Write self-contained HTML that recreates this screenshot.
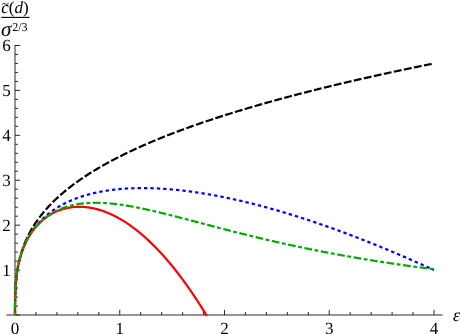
<!DOCTYPE html>
<html><head><meta charset="utf-8"><title>plot</title>
<style>
html,body{margin:0;padding:0;background:#fff;}
body{width:461px;height:334px;overflow:hidden;}
svg{display:block;will-change:transform;}
text{font-family:"Liberation Serif",serif;font-size:17px;fill:#000;text-rendering:geometricPrecision;}
.ax line{stroke:#2a2a2a;stroke-width:1;}
.c{fill:none;stroke-width:2.2;stroke-linejoin:round;}
.i{font-style:italic;}
</style></head><body>
<svg width="461" height="334" viewBox="0 0 461 334">
<rect width="461" height="334" fill="#fff"/>
<g class="ax">
<line x1="6.3" y1="315.00" x2="442.60" y2="315.00"/>
<line x1="15.00" y1="315.00" x2="15.00" y2="44.98"/>
<line x1="15.00" y1="315.00" x2="15.00" y2="309.90"/>
<line x1="35.95" y1="315.00" x2="35.95" y2="312.00"/>
<line x1="56.90" y1="315.00" x2="56.90" y2="312.00"/>
<line x1="77.85" y1="315.00" x2="77.85" y2="312.00"/>
<line x1="98.80" y1="315.00" x2="98.80" y2="312.00"/>
<line x1="119.75" y1="315.00" x2="119.75" y2="309.90"/>
<line x1="140.70" y1="315.00" x2="140.70" y2="312.00"/>
<line x1="161.65" y1="315.00" x2="161.65" y2="312.00"/>
<line x1="182.60" y1="315.00" x2="182.60" y2="312.00"/>
<line x1="203.55" y1="315.00" x2="203.55" y2="312.00"/>
<line x1="224.50" y1="315.00" x2="224.50" y2="309.90"/>
<line x1="245.45" y1="315.00" x2="245.45" y2="312.00"/>
<line x1="266.40" y1="315.00" x2="266.40" y2="312.00"/>
<line x1="287.35" y1="315.00" x2="287.35" y2="312.00"/>
<line x1="308.30" y1="315.00" x2="308.30" y2="312.00"/>
<line x1="329.25" y1="315.00" x2="329.25" y2="309.90"/>
<line x1="350.20" y1="315.00" x2="350.20" y2="312.00"/>
<line x1="371.15" y1="315.00" x2="371.15" y2="312.00"/>
<line x1="392.10" y1="315.00" x2="392.10" y2="312.00"/>
<line x1="413.05" y1="315.00" x2="413.05" y2="312.00"/>
<line x1="434.00" y1="315.00" x2="434.00" y2="309.90"/>
<line x1="15.00" y1="315.00" x2="20.10" y2="315.00"/>
<line x1="15.00" y1="306.02" x2="18.00" y2="306.02"/>
<line x1="15.00" y1="297.03" x2="18.00" y2="297.03"/>
<line x1="15.00" y1="288.05" x2="18.00" y2="288.05"/>
<line x1="15.00" y1="279.06" x2="18.00" y2="279.06"/>
<line x1="15.00" y1="270.08" x2="20.10" y2="270.08"/>
<line x1="15.00" y1="261.10" x2="18.00" y2="261.10"/>
<line x1="15.00" y1="252.11" x2="18.00" y2="252.11"/>
<line x1="15.00" y1="243.13" x2="18.00" y2="243.13"/>
<line x1="15.00" y1="234.14" x2="18.00" y2="234.14"/>
<line x1="15.00" y1="225.16" x2="20.10" y2="225.16"/>
<line x1="15.00" y1="216.18" x2="18.00" y2="216.18"/>
<line x1="15.00" y1="207.19" x2="18.00" y2="207.19"/>
<line x1="15.00" y1="198.21" x2="18.00" y2="198.21"/>
<line x1="15.00" y1="189.22" x2="18.00" y2="189.22"/>
<line x1="15.00" y1="180.24" x2="20.10" y2="180.24"/>
<line x1="15.00" y1="171.26" x2="18.00" y2="171.26"/>
<line x1="15.00" y1="162.27" x2="18.00" y2="162.27"/>
<line x1="15.00" y1="153.29" x2="18.00" y2="153.29"/>
<line x1="15.00" y1="144.30" x2="18.00" y2="144.30"/>
<line x1="15.00" y1="135.32" x2="20.10" y2="135.32"/>
<line x1="15.00" y1="126.34" x2="18.00" y2="126.34"/>
<line x1="15.00" y1="117.35" x2="18.00" y2="117.35"/>
<line x1="15.00" y1="108.37" x2="18.00" y2="108.37"/>
<line x1="15.00" y1="99.38" x2="18.00" y2="99.38"/>
<line x1="15.00" y1="90.40" x2="20.10" y2="90.40"/>
<line x1="15.00" y1="81.42" x2="18.00" y2="81.42"/>
<line x1="15.00" y1="72.43" x2="18.00" y2="72.43"/>
<line x1="15.00" y1="63.45" x2="18.00" y2="63.45"/>
<line x1="15.00" y1="54.46" x2="18.00" y2="54.46"/>
<line x1="15.00" y1="45.48" x2="20.10" y2="45.48"/>
</g>
<g>
<text x="15.00" y="334.3" text-anchor="middle">0</text>
<text x="119.75" y="334.3" text-anchor="middle">1</text>
<text x="224.50" y="334.3" text-anchor="middle">2</text>
<text x="329.25" y="334.3" text-anchor="middle">3</text>
<text x="434.00" y="334.3" text-anchor="middle">4</text>
<text x="10.75" y="275.88" text-anchor="end">1</text>
<text x="10.75" y="230.96" text-anchor="end">2</text>
<text x="10.75" y="186.04" text-anchor="end">3</text>
<text x="10.75" y="141.12" text-anchor="end">4</text>
<text x="10.75" y="96.20" text-anchor="end">5</text>
<text x="10.75" y="51.28" text-anchor="end">6</text>
</g>
<text x="453.0" y="320.7" class="i" style="font-size:18px">&#949;</text>
<g id="ylabel">
<text x="1.2" y="13.2" style="font-size:17px"><tspan class="i">c</tspan>(<tspan class="i">d</tspan>)</text>
<path d="M2.2 4.6 C3.4 2.9 4.6 3.4 5.6 4 C6.6 4.6 7.6 4.6 8.4 3.2" fill="none" stroke="#000" stroke-width="0.9"/>
<line x1="1.2" y1="17.4" x2="29.6" y2="17.4" stroke="#000" stroke-width="1.1"/>
<text x="0.9" y="35.7" class="i" style="font-size:21px">&#963;</text>
<text x="12.2" y="30.8" style="font-size:12px">2/3</text>
</g>
<path class="c" d="M15.00 315.00 L15.00 314.73 L15.00 314.47 L15.00 314.20 L15.00 313.94 L15.00 313.67 L15.00 313.40 L15.00 313.14 L15.00 312.87 L15.00 312.61 L15.00 312.34 L15.00 312.08 L15.00 311.81 L15.00 311.54 L15.00 311.28 L15.00 311.01 L15.00 310.75 L15.00 310.48 L15.00 310.21 L15.00 309.95 L15.00 309.68 L15.00 309.42 L15.01 309.15 L15.01 308.88 L15.01 308.62 L15.01 308.35 L15.01 308.09 L15.01 307.82 L15.01 307.56 L15.01 307.29 L15.01 307.02 L15.01 306.76 L15.02 306.49 L15.02 306.23 L15.02 305.96 L15.02 305.69 L15.02 305.43 L15.03 305.16 L15.03 304.90 L15.03 304.63 L15.03 304.36 L15.03 304.10 L15.04 303.83 L15.04 303.57 L15.04 303.30 L15.05 303.03 L15.05 302.77 L15.05 302.50 L15.05 302.24 L15.06 301.97 L15.06 301.71 L15.07 301.44 L15.07 301.17 L15.07 300.91 L15.08 300.64 L15.08 300.38 L15.09 300.11 L15.09 299.84 L15.10 299.58 L15.10 299.31 L15.11 299.05 L15.11 298.78 L15.12 298.51 L15.12 298.25 L15.13 297.98 L15.14 297.72 L15.14 297.45 L15.15 297.19 L15.16 296.92 L15.16 296.65 L15.17 296.39 L15.18 296.12 L15.18 295.86 L15.19 295.59 L15.20 295.32 L15.21 295.06 L15.22 294.79 L15.23 294.53 L15.23 294.26 L15.24 293.99 L15.25 293.73 L15.26 293.46 L15.27 293.20 L15.28 292.93 L15.29 292.67 L15.30 292.40 L15.31 292.13 L15.33 291.87 L15.34 291.60 L15.35 291.34 L15.36 291.07 L15.37 290.80 L15.39 290.54 L15.40 290.27 L15.41 290.01 L15.42 289.74 L15.44 289.47 L15.45 289.21 L15.47 288.94 L15.48 288.68 L15.49 288.41 L15.51 288.15 L15.52 287.88 L15.54 287.61 L15.56 287.35 L15.57 287.08 L15.59 286.82 L15.61 286.55 L15.62 286.28 L15.64 286.02 L15.66 285.75 L15.68 285.49 L15.70 285.22 L15.71 284.95 L15.73 284.69 L15.75 284.42 L15.77 284.16 L15.79 283.89 L15.81 283.62 L15.83 283.36 L15.85 283.09 L15.88 282.83 L15.90 282.56 L15.92 282.30 L15.94 282.03 L15.97 281.76 L15.99 281.50 L16.01 281.23 L16.04 280.97 L16.06 280.70 L16.09 280.43 L16.11 280.17 L16.14 279.90 L16.16 279.64 L16.19 279.37 L16.22 279.10 L16.24 278.84 L16.27 278.57 L16.30 278.31 L16.33 278.04 L16.36 277.78 L16.39 277.51 L16.42 277.24 L16.45 276.98 L16.48 276.71 L16.51 276.45 L16.54 276.18 L16.57 275.91 L16.60 275.65 L16.64 275.38 L16.67 275.12 L16.70 274.85 L16.74 274.58 L16.77 274.32 L16.81 274.05 L16.84 273.79 L16.88 273.52 L16.91 273.26 L16.95 272.99 L16.99 272.72 L17.03 272.46 L17.06 272.19 L17.10 271.93 L17.14 271.66 L17.18 271.39 L17.22 271.13 L17.26 270.86 L17.30 270.60 L17.35 270.33 L17.39 270.06 L17.43 269.80 L17.47 269.53 L17.52 269.27 L17.56 269.00 L17.61 268.74 L17.65 268.47 L17.70 268.20 L17.74 267.94 L17.79 267.67 L17.84 267.41 L17.89 267.14 L17.93 266.87 L17.98 266.61 L18.03 266.34 L18.08 266.08 L18.13 265.81 L18.18 265.54 L18.24 265.28 L18.29 265.01 L18.34 264.75 L18.39 264.48 L18.45 264.21 L18.50 263.95 L18.56 263.68 L18.61 263.42 L18.67 263.15 L18.72 262.89 L18.78 262.62 L18.84 262.35 L18.90 262.09 L18.96 261.82 L19.02 261.56 L19.08 261.29 L19.14 261.02 L19.20 260.76 L19.26 260.49 L19.32 260.23 L19.39 259.96 L19.45 259.69 L19.52 259.43 L19.58 259.16 L19.65 258.90 L19.71 258.63 L19.78 258.37 L19.85 258.10 L19.92 257.83 L19.99 257.57 L20.06 257.30 L20.13 257.04 L20.20 256.77 L20.27 256.50 L20.34 256.24 L20.41 255.97 L20.49 255.71 L20.56 255.44 L20.64 255.17 L20.71 254.91 L20.79 254.64 L20.86 254.38 L20.94 254.11 L21.02 253.85 L21.10 253.58 L21.18 253.31 L21.26 253.05 L21.34 252.78 L21.42 252.52 L21.50 252.25 L21.59 251.98 L21.67 251.72 L21.75 251.45 L21.84 251.19 L21.92 250.92 L22.01 250.65 L22.10 250.39 L22.19 250.12 L22.28 249.86 L22.36 249.59 L22.45 249.33 L22.55 249.06 L22.64 248.79 L22.73 248.53 L22.82 248.26 L22.92 248.00 L23.01 247.73 L23.11 247.46 L23.20 247.20 L23.30 246.93 L23.40 246.67 L23.50 246.40 L23.60 246.13 L23.70 245.87 L23.80 245.60 L23.90 245.34 L24.00 245.07 L24.10 244.80 L24.21 244.54 L24.31 244.27 L24.42 244.01 L24.52 243.74 L24.63 243.48 L24.74 243.21 L24.85 242.94 L24.96 242.68 L25.07 242.41 L25.18 242.15 L25.29 241.88 L25.40 241.61 L25.51 241.35 L25.63 241.08 L25.74 240.82 L25.86 240.55 L25.98 240.28 L26.09 240.02 L26.21 239.75 L26.33 239.49 L26.45 239.22 L26.57 238.96 L26.70 238.69 L26.82 238.42 L26.94 238.16 L27.07 237.89 L27.19 237.63 L27.32 237.36 L27.44 237.09 L27.57 236.83 L27.70 236.56 L27.83 236.30 L27.96 236.03 L28.09 235.76 L28.22 235.50 L28.36 235.23 L28.49 234.97 L28.63 234.70 L28.76 234.44 L28.90 234.17 L29.04 233.90 L29.17 233.64 L29.31 233.37 L29.45 233.11 L29.60 232.84 L29.74 232.57 L29.88 232.31 L30.03 232.04 L30.17 231.78 L30.32 231.51 L30.46 231.24 L30.61 230.98 L30.76 230.71 L30.91 230.45 L31.06 230.18 L31.21 229.92 L31.36 229.65 L31.52 229.38 L31.67 229.12 L31.83 228.85 L31.98 228.59 L32.14 228.32 L32.30 228.05 L32.46 227.79 L32.62 227.52 L32.78 227.26 L32.94 226.99 L33.10 226.72 L33.27 226.46 L33.43 226.19 L33.60 225.93 L33.77 225.66 L33.93 225.39 L34.10 225.13 L34.27 224.86 L34.44 224.60 L34.62 224.33 L34.79 224.07 L34.96 223.80 L35.14 223.53 L35.31 223.27 L35.49 223.00 L35.67 222.74 L35.85 222.47 L36.03 222.20 L36.21 221.94 L36.39 221.67 L36.58 221.41 L36.76 221.14 L36.95 220.87 L37.13 220.61 L37.32 220.34 L37.51 220.08 L37.70 219.81 L37.89 219.55 L38.08 219.28 L38.27 219.01 L38.47 218.75 L38.66 218.48 L38.86 218.22 L39.06 217.95 L39.25 217.68 L39.45 217.42 L39.65 217.15 L39.86 216.89 L40.06 216.62 L40.26 216.35 L40.47 216.09 L40.67 215.82 L40.88 215.56 L41.09 215.29 L41.30 215.03 L41.51 214.76 L41.72 214.49 L41.93 214.23 L42.15 213.96 L42.36 213.70 L42.58 213.43 L42.79 213.16 L43.01 212.90 L43.23 212.63 L43.45 212.37 L43.67 212.10 L43.90 211.83 L44.12 211.57 L44.35 211.30 L44.57 211.04 L44.80 210.77 L45.03 210.51 L45.26 210.24 L45.49 209.97 L45.72 209.71 L45.95 209.44 L46.19 209.18 L46.42 208.91 L47.20 208.04 L47.98 207.19 L48.76 206.35 L49.53 205.52 L50.31 204.71 L51.09 203.91 L51.86 203.11 L52.64 202.33 L53.42 201.56 L54.19 200.80 L54.97 200.05 L55.75 199.32 L56.52 198.58 L57.30 197.86 L58.08 197.15 L58.85 196.45 L59.63 195.75 L60.41 195.06 L61.18 194.38 L61.96 193.71 L62.74 193.05 L63.51 192.39 L64.29 191.74 L65.07 191.09 L65.84 190.46 L66.62 189.82 L67.40 189.20 L68.17 188.58 L68.95 187.97 L69.73 187.36 L70.50 186.76 L71.28 186.17 L72.06 185.58 L72.83 184.99 L73.61 184.41 L74.39 183.84 L75.16 183.27 L75.94 182.70 L76.72 182.14 L77.49 181.59 L78.27 181.04 L79.05 180.49 L79.82 179.95 L80.60 179.41 L81.38 178.88 L82.15 178.35 L82.93 177.83 L83.71 177.31 L84.48 176.79 L85.26 176.28 L86.04 175.77 L86.81 175.26 L87.59 174.76 L88.37 174.26 L89.14 173.77 L89.92 173.27 L90.70 172.79 L91.47 172.30 L92.25 171.82 L93.03 171.34 L93.80 170.87 L94.58 170.39 L95.36 169.93 L96.13 169.46 L96.91 169.00 L97.69 168.54 L98.46 168.08 L99.24 167.62 L100.02 167.17 L100.79 166.72 L101.57 166.28 L102.35 165.83 L103.12 165.39 L103.90 164.96 L104.68 164.52 L105.45 164.09 L106.23 163.66 L107.01 163.23 L107.78 162.80 L108.56 162.38 L109.34 161.96 L110.11 161.54 L110.89 161.12 L111.67 160.71 L112.44 160.30 L113.22 159.89 L114.00 159.48 L114.77 159.07 L115.55 158.67 L116.33 158.27 L117.11 157.87 L117.88 157.47 L118.66 157.07 L119.44 156.68 L120.21 156.29 L120.99 155.90 L121.77 155.51 L122.54 155.13 L123.32 154.74 L124.10 154.36 L124.87 153.98 L125.65 153.60 L126.43 153.22 L127.20 152.85 L127.98 152.48 L128.76 152.10 L129.53 151.74 L130.31 151.37 L131.09 151.00 L131.86 150.64 L132.64 150.27 L133.42 149.91 L134.19 149.55 L134.97 149.19 L135.75 148.83 L136.52 148.48 L137.30 148.12 L138.08 147.77 L138.85 147.42 L139.63 147.07 L140.41 146.72 L141.18 146.38 L141.96 146.03 L142.74 145.69 L143.51 145.35 L144.29 145.00 L145.07 144.66 L145.84 144.33 L146.62 143.99 L147.40 143.65 L148.17 143.32 L148.95 142.99 L149.73 142.65 L150.50 142.32 L151.28 141.99 L152.06 141.67 L152.83 141.34 L153.61 141.01 L154.39 140.69 L155.16 140.37 L155.94 140.04 L156.72 139.72 L157.49 139.40 L158.27 139.09 L159.05 138.77 L159.82 138.45 L160.60 138.14 L161.38 137.82 L162.15 137.51 L162.93 137.20 L163.71 136.89 L164.48 136.58 L165.26 136.27 L166.04 135.96 L166.81 135.66 L167.59 135.35 L168.37 135.05 L169.14 134.74 L169.92 134.44 L170.70 134.14 L171.47 133.84 L172.25 133.54 L173.03 133.24 L173.80 132.94 L174.58 132.65 L175.36 132.35 L176.13 132.06 L176.91 131.76 L177.69 131.47 L178.46 131.18 L179.24 130.89 L180.02 130.60 L180.79 130.31 L181.57 130.02 L182.35 129.74 L183.12 129.45 L183.90 129.16 L184.68 128.88 L185.45 128.60 L186.23 128.31 L187.01 128.03 L187.79 127.75 L188.56 127.47 L189.34 127.19 L190.12 126.91 L190.89 126.64 L191.67 126.36 L192.45 126.08 L193.22 125.81 L194.00 125.53 L194.78 125.26 L195.55 124.99 L196.33 124.71 L197.11 124.44 L197.88 124.17 L198.66 123.90 L199.44 123.63 L200.21 123.37 L200.99 123.10 L201.77 122.83 L202.54 122.57 L203.32 122.30 L204.10 122.04 L204.87 121.77 L205.65 121.51 L206.43 121.25 L207.20 120.98 L207.98 120.72 L208.76 120.46 L209.53 120.20 L210.31 119.94 L211.09 119.69 L211.86 119.43 L212.64 119.17 L213.42 118.92 L214.19 118.66 L214.97 118.41 L215.75 118.15 L216.52 117.90 L217.30 117.64 L218.08 117.39 L218.85 117.14 L219.63 116.89 L220.41 116.64 L221.18 116.39 L221.96 116.14 L222.74 115.89 L223.51 115.64 L224.29 115.40 L225.07 115.15 L225.84 114.90 L226.62 114.66 L227.40 114.41 L228.17 114.17 L228.95 113.93 L229.73 113.68 L230.50 113.44 L231.28 113.20 L232.06 112.96 L232.83 112.72 L233.61 112.48 L234.39 112.24 L235.16 112.00 L235.94 111.76 L236.72 111.52 L237.49 111.28 L238.27 111.05 L239.05 110.81 L239.82 110.58 L240.60 110.34 L241.38 110.11 L242.15 109.87 L242.93 109.64 L243.71 109.41 L244.48 109.17 L245.26 108.94 L246.04 108.71 L246.81 108.48 L247.59 108.25 L248.37 108.02 L249.14 107.79 L249.92 107.56 L250.70 107.33 L251.47 107.10 L252.25 106.88 L253.03 106.65 L253.80 106.42 L254.58 106.20 L255.36 105.97 L256.13 105.75 L256.91 105.52 L257.69 105.30 L258.47 105.08 L259.24 104.85 L260.02 104.63 L260.80 104.41 L261.57 104.19 L262.35 103.97 L263.13 103.74 L263.90 103.52 L264.68 103.30 L265.46 103.09 L266.23 102.87 L267.01 102.65 L267.79 102.43 L268.56 102.21 L269.34 102.00 L270.12 101.78 L270.89 101.56 L271.67 101.35 L272.45 101.13 L273.22 100.92 L274.00 100.70 L274.78 100.49 L275.55 100.28 L276.33 100.06 L277.11 99.85 L277.88 99.64 L278.66 99.43 L279.44 99.21 L280.21 99.00 L280.99 98.79 L281.77 98.58 L282.54 98.37 L283.32 98.16 L284.10 97.95 L284.87 97.74 L285.65 97.54 L286.43 97.33 L287.20 97.12 L287.98 96.91 L288.76 96.71 L289.53 96.50 L290.31 96.30 L291.09 96.09 L291.86 95.89 L292.64 95.68 L293.42 95.48 L294.19 95.27 L294.97 95.07 L295.75 94.87 L296.52 94.66 L297.30 94.46 L298.08 94.26 L298.85 94.06 L299.63 93.85 L300.41 93.65 L301.18 93.45 L301.96 93.25 L302.74 93.05 L303.51 92.85 L304.29 92.65 L305.07 92.46 L305.84 92.26 L306.62 92.06 L307.40 91.86 L308.17 91.66 L308.95 91.47 L309.73 91.27 L310.50 91.07 L311.28 90.88 L312.06 90.68 L312.83 90.49 L313.61 90.29 L314.39 90.10 L315.16 89.90 L315.94 89.71 L316.72 89.52 L317.49 89.32 L318.27 89.13 L319.05 88.94 L319.82 88.74 L320.60 88.55 L321.38 88.36 L322.15 88.17 L322.93 87.98 L323.71 87.79 L324.48 87.60 L325.26 87.41 L326.04 87.22 L326.81 87.03 L327.59 86.84 L328.37 86.65 L329.15 86.46 L329.92 86.27 L330.70 86.08 L331.48 85.90 L332.25 85.71 L333.03 85.52 L333.81 85.34 L334.58 85.15 L335.36 84.96 L336.14 84.78 L336.91 84.59 L337.69 84.41 L338.47 84.22 L339.24 84.04 L340.02 83.85 L340.80 83.67 L341.57 83.49 L342.35 83.30 L343.13 83.12 L343.90 82.94 L344.68 82.75 L345.46 82.57 L346.23 82.39 L347.01 82.21 L347.79 82.03 L348.56 81.85 L349.34 81.67 L350.12 81.48 L350.89 81.30 L351.67 81.12 L352.45 80.94 L353.22 80.77 L354.00 80.59 L354.78 80.41 L355.55 80.23 L356.33 80.05 L357.11 79.87 L357.88 79.69 L358.66 79.52 L359.44 79.34 L360.21 79.16 L360.99 78.99 L361.77 78.81 L362.54 78.63 L363.32 78.46 L364.10 78.28 L364.87 78.11 L365.65 77.93 L366.43 77.76 L367.20 77.58 L367.98 77.41 L368.76 77.23 L369.53 77.06 L370.31 76.89 L371.09 76.71 L371.86 76.54 L372.64 76.37 L373.42 76.19 L374.19 76.02 L374.97 75.85 L375.75 75.68 L376.52 75.51 L377.30 75.33 L378.08 75.16 L378.85 74.99 L379.63 74.82 L380.41 74.65 L381.18 74.48 L381.96 74.31 L382.74 74.14 L383.51 73.97 L384.29 73.80 L385.07 73.63 L385.84 73.46 L386.62 73.30 L387.40 73.13 L388.17 72.96 L388.95 72.79 L389.73 72.62 L390.50 72.46 L391.28 72.29 L392.06 72.12 L392.83 71.96 L393.61 71.79 L394.39 71.62 L395.16 71.46 L395.94 71.29 L396.72 71.13 L397.49 70.96 L398.27 70.80 L399.05 70.63 L399.83 70.47 L400.60 70.30 L401.38 70.14 L402.16 69.97 L402.93 69.81 L403.71 69.65 L404.49 69.48 L405.26 69.32 L406.04 69.16 L406.82 68.99 L407.59 68.83 L408.37 68.67 L409.15 68.51 L409.92 68.35 L410.70 68.18 L411.48 68.02 L412.25 67.86 L413.03 67.70 L413.81 67.54 L414.58 67.38 L415.36 67.22 L416.14 67.06 L416.91 66.90 L417.69 66.74 L418.47 66.58 L419.24 66.42 L420.02 66.26 L420.80 66.10 L421.57 65.94 L422.35 65.79 L423.13 65.63 L423.90 65.47 L424.68 65.31 L425.46 65.15 L426.23 65.00 L427.01 64.84 L427.79 64.68 L428.56 64.53 L429.34 64.37 L430.12 64.21 L430.89 64.06 L431.67 63.90 L432.45 63.74 L433.22 63.59 L434.00 63.43" stroke="#000" stroke-dasharray="7.85 2.4"/>
<path class="c" d="M15.00 315.00 L15.00 314.73 L15.00 314.47 L15.00 314.20 L15.00 313.94 L15.00 313.67 L15.00 313.40 L15.00 313.14 L15.00 312.87 L15.00 312.61 L15.00 312.34 L15.00 312.08 L15.00 311.81 L15.00 311.54 L15.00 311.28 L15.00 311.01 L15.00 310.75 L15.00 310.48 L15.00 310.21 L15.00 309.95 L15.00 309.68 L15.00 309.42 L15.01 309.15 L15.01 308.88 L15.01 308.62 L15.01 308.35 L15.01 308.09 L15.01 307.82 L15.01 307.56 L15.01 307.29 L15.01 307.02 L15.01 306.76 L15.02 306.49 L15.02 306.23 L15.02 305.96 L15.02 305.69 L15.02 305.43 L15.03 305.16 L15.03 304.90 L15.03 304.63 L15.03 304.37 L15.03 304.10 L15.04 303.83 L15.04 303.57 L15.04 303.30 L15.05 303.04 L15.05 302.77 L15.05 302.50 L15.05 302.24 L15.06 301.97 L15.06 301.71 L15.07 301.44 L15.07 301.18 L15.07 300.91 L15.08 300.64 L15.08 300.38 L15.09 300.11 L15.09 299.85 L15.10 299.58 L15.10 299.32 L15.11 299.05 L15.11 298.78 L15.12 298.52 L15.12 298.25 L15.13 297.99 L15.14 297.72 L15.14 297.46 L15.15 297.19 L15.16 296.92 L15.16 296.66 L15.17 296.39 L15.18 296.13 L15.18 295.86 L15.19 295.60 L15.20 295.33 L15.21 295.07 L15.22 294.80 L15.23 294.54 L15.23 294.27 L15.24 294.00 L15.25 293.74 L15.26 293.47 L15.27 293.21 L15.28 292.94 L15.29 292.68 L15.30 292.41 L15.31 292.15 L15.33 291.88 L15.34 291.62 L15.35 291.35 L15.36 291.09 L15.37 290.82 L15.39 290.56 L15.40 290.29 L15.41 290.03 L15.42 289.76 L15.44 289.50 L15.45 289.23 L15.47 288.97 L15.48 288.70 L15.49 288.44 L15.51 288.17 L15.52 287.91 L15.54 287.64 L15.56 287.38 L15.57 287.11 L15.59 286.85 L15.61 286.58 L15.62 286.32 L15.64 286.05 L15.66 285.79 L15.68 285.53 L15.70 285.26 L15.71 285.00 L15.73 284.73 L15.75 284.47 L15.77 284.20 L15.79 283.94 L15.81 283.67 L15.83 283.41 L15.85 283.15 L15.88 282.88 L15.90 282.62 L15.92 282.35 L15.94 282.09 L15.97 281.83 L15.99 281.56 L16.01 281.30 L16.04 281.04 L16.06 280.77 L16.09 280.51 L16.11 280.24 L16.14 279.98 L16.16 279.72 L16.19 279.45 L16.22 279.19 L16.24 278.93 L16.27 278.66 L16.30 278.40 L16.33 278.14 L16.36 277.87 L16.39 277.61 L16.42 277.35 L16.45 277.09 L16.48 276.82 L16.51 276.56 L16.54 276.30 L16.57 276.03 L16.60 275.77 L16.64 275.51 L16.67 275.25 L16.70 274.98 L16.74 274.72 L16.77 274.46 L16.81 274.20 L16.84 273.94 L16.88 273.67 L16.91 273.41 L16.95 273.15 L16.99 272.89 L17.03 272.63 L17.06 272.36 L17.10 272.10 L17.14 271.84 L17.18 271.58 L17.22 271.32 L17.26 271.06 L17.30 270.80 L17.35 270.54 L17.39 270.27 L17.43 270.01 L17.47 269.75 L17.52 269.49 L17.56 269.23 L17.61 268.97 L17.65 268.71 L17.70 268.45 L17.74 268.19 L17.79 267.93 L17.84 267.67 L17.89 267.41 L17.93 267.15 L17.98 266.89 L18.03 266.63 L18.08 266.37 L18.13 266.11 L18.18 265.85 L18.24 265.59 L18.29 265.33 L18.34 265.08 L18.39 264.82 L18.45 264.56 L18.50 264.30 L18.56 264.04 L18.61 263.78 L18.67 263.52 L18.72 263.27 L18.78 263.01 L18.84 262.75 L18.90 262.49 L18.96 262.23 L19.02 261.98 L19.08 261.72 L19.14 261.46 L19.20 261.20 L19.26 260.95 L19.32 260.69 L19.39 260.43 L19.45 260.18 L19.52 259.92 L19.58 259.66 L19.65 259.41 L19.71 259.15 L19.78 258.90 L19.85 258.64 L19.92 258.38 L19.99 258.13 L20.06 257.87 L20.13 257.62 L20.20 257.36 L20.27 257.11 L20.34 256.85 L20.41 256.60 L20.49 256.34 L20.56 256.09 L20.64 255.84 L20.71 255.58 L20.79 255.33 L20.86 255.07 L20.94 254.82 L21.02 254.57 L21.10 254.31 L21.18 254.06 L21.26 253.81 L21.34 253.55 L21.42 253.30 L21.50 253.05 L21.59 252.80 L21.67 252.55 L21.75 252.29 L21.84 252.04 L21.92 251.79 L22.01 251.54 L22.10 251.29 L22.19 251.04 L22.28 250.79 L22.36 250.54 L22.45 250.28 L22.55 250.03 L22.64 249.78 L22.73 249.53 L22.82 249.29 L22.92 249.04 L23.01 248.79 L23.11 248.54 L23.20 248.29 L23.30 248.04 L23.40 247.79 L23.50 247.54 L23.60 247.29 L23.70 247.05 L23.80 246.80 L23.90 246.55 L24.00 246.30 L24.10 246.06 L24.21 245.81 L24.31 245.56 L24.42 245.32 L24.52 245.07 L24.63 244.83 L24.74 244.58 L24.85 244.33 L24.96 244.09 L25.07 243.84 L25.18 243.60 L25.29 243.36 L25.40 243.11 L25.51 242.87 L25.63 242.62 L25.74 242.38 L25.86 242.14 L25.98 241.89 L26.09 241.65 L26.21 241.41 L26.33 241.16 L26.45 240.92 L26.57 240.68 L26.70 240.44 L26.82 240.20 L26.94 239.96 L27.07 239.72 L27.19 239.48 L27.32 239.23 L27.44 238.99 L27.57 238.75 L27.70 238.52 L27.83 238.28 L27.96 238.04 L28.09 237.80 L28.22 237.56 L28.36 237.32 L28.49 237.08 L28.63 236.85 L28.76 236.61 L28.90 236.37 L29.04 236.14 L29.17 235.90 L29.31 235.66 L29.45 235.43 L29.60 235.19 L29.74 234.96 L29.88 234.72 L30.03 234.49 L30.17 234.25 L30.32 234.02 L30.46 233.78 L30.61 233.55 L30.76 233.32 L30.91 233.08 L31.06 232.85 L31.21 232.62 L31.36 232.39 L31.52 232.16 L31.67 231.92 L31.83 231.69 L31.98 231.46 L32.14 231.23 L32.30 231.00 L32.46 230.77 L32.62 230.54 L32.78 230.31 L32.94 230.09 L33.10 229.86 L33.27 229.63 L33.43 229.40 L33.60 229.17 L33.77 228.95 L33.93 228.72 L34.10 228.49 L34.27 228.27 L34.44 228.04 L34.62 227.82 L34.79 227.59 L34.96 227.37 L35.14 227.14 L35.31 226.92 L35.49 226.70 L35.67 226.47 L35.85 226.25 L36.03 226.03 L36.21 225.81 L36.39 225.59 L36.58 225.37 L36.76 225.14 L36.95 224.92 L37.13 224.70 L37.32 224.49 L37.51 224.27 L37.70 224.05 L37.89 223.83 L38.08 223.61 L38.27 223.39 L38.47 223.18 L38.66 222.96 L38.86 222.74 L39.06 222.53 L39.25 222.31 L39.45 222.10 L39.65 221.88 L39.86 221.67 L40.06 221.45 L40.26 221.24 L40.47 221.03 L40.67 220.81 L40.88 220.60 L41.09 220.39 L41.30 220.18 L41.51 219.97 L41.72 219.76 L41.93 219.55 L42.15 219.34 L42.36 219.13 L42.58 218.92 L42.79 218.71 L43.01 218.51 L43.23 218.30 L43.45 218.09 L43.67 217.88 L43.90 217.68 L44.12 217.47 L44.35 217.27 L44.57 217.06 L44.80 216.86 L45.03 216.66 L45.26 216.45 L45.49 216.25 L45.72 216.05 L45.95 215.85 L46.19 215.65 L46.42 215.45 L47.20 214.80 L47.98 214.16 L48.76 213.54 L49.53 212.93 L50.31 212.34 L51.09 211.76 L51.86 211.20 L52.64 210.65 L53.42 210.11 L54.19 209.58 L54.97 209.06 L55.75 208.56 L56.52 208.06 L57.30 207.58 L58.08 207.10 L58.85 206.64 L59.63 206.18 L60.41 205.74 L61.18 205.30 L61.96 204.88 L62.74 204.46 L63.51 204.05 L64.29 203.65 L65.07 203.25 L65.84 202.87 L66.62 202.49 L67.40 202.12 L68.17 201.76 L68.95 201.40 L69.73 201.06 L70.50 200.71 L71.28 200.38 L72.06 200.05 L72.83 199.73 L73.61 199.42 L74.39 199.11 L75.16 198.80 L75.94 198.51 L76.72 198.22 L77.49 197.93 L78.27 197.65 L79.05 197.38 L79.82 197.11 L80.60 196.85 L81.38 196.59 L82.15 196.34 L82.93 196.09 L83.71 195.85 L84.48 195.62 L85.26 195.38 L86.04 195.16 L86.81 194.93 L87.59 194.72 L88.37 194.50 L89.14 194.29 L89.92 194.09 L90.70 193.89 L91.47 193.70 L92.25 193.50 L93.03 193.32 L93.80 193.13 L94.58 192.95 L95.36 192.78 L96.13 192.61 L96.91 192.44 L97.69 192.28 L98.46 192.12 L99.24 191.96 L100.02 191.81 L100.79 191.66 L101.57 191.52 L102.35 191.38 L103.12 191.24 L103.90 191.11 L104.68 190.98 L105.45 190.85 L106.23 190.73 L107.01 190.60 L107.78 190.49 L108.56 190.37 L109.34 190.26 L110.11 190.15 L110.89 190.05 L111.67 189.95 L112.44 189.85 L113.22 189.75 L114.00 189.66 L114.77 189.57 L115.55 189.49 L116.33 189.40 L117.11 189.32 L117.88 189.24 L118.66 189.17 L119.44 189.10 L120.21 189.03 L120.99 188.96 L121.77 188.89 L122.54 188.83 L123.32 188.77 L124.10 188.72 L124.87 188.66 L125.65 188.61 L126.43 188.56 L127.20 188.52 L127.98 188.47 L128.76 188.43 L129.53 188.39 L130.31 188.36 L131.09 188.32 L131.86 188.29 L132.64 188.26 L133.42 188.24 L134.19 188.21 L134.97 188.19 L135.75 188.17 L136.52 188.15 L137.30 188.14 L138.08 188.12 L138.85 188.11 L139.63 188.10 L140.41 188.10 L141.18 188.09 L141.96 188.09 L142.74 188.09 L143.51 188.09 L144.29 188.09 L145.07 188.10 L145.84 188.11 L146.62 188.12 L147.40 188.13 L148.17 188.14 L148.95 188.16 L149.73 188.18 L150.50 188.20 L151.28 188.22 L152.06 188.24 L152.83 188.27 L153.61 188.29 L154.39 188.32 L155.16 188.35 L155.94 188.39 L156.72 188.42 L157.49 188.46 L158.27 188.50 L159.05 188.54 L159.82 188.58 L160.60 188.62 L161.38 188.67 L162.15 188.71 L162.93 188.76 L163.71 188.81 L164.48 188.87 L165.26 188.92 L166.04 188.98 L166.81 189.03 L167.59 189.09 L168.37 189.15 L169.14 189.22 L169.92 189.28 L170.70 189.35 L171.47 189.41 L172.25 189.48 L173.03 189.55 L173.80 189.62 L174.58 189.70 L175.36 189.77 L176.13 189.85 L176.91 189.93 L177.69 190.01 L178.46 190.09 L179.24 190.17 L180.02 190.26 L180.79 190.34 L181.57 190.43 L182.35 190.52 L183.12 190.61 L183.90 190.70 L184.68 190.79 L185.45 190.89 L186.23 190.98 L187.01 191.08 L187.79 191.18 L188.56 191.28 L189.34 191.38 L190.12 191.49 L190.89 191.59 L191.67 191.70 L192.45 191.80 L193.22 191.91 L194.00 192.02 L194.78 192.13 L195.55 192.25 L196.33 192.36 L197.11 192.47 L197.88 192.59 L198.66 192.71 L199.44 192.83 L200.21 192.95 L200.99 193.07 L201.77 193.19 L202.54 193.32 L203.32 193.44 L204.10 193.57 L204.87 193.70 L205.65 193.83 L206.43 193.96 L207.20 194.09 L207.98 194.22 L208.76 194.36 L209.53 194.49 L210.31 194.63 L211.09 194.77 L211.86 194.91 L212.64 195.05 L213.42 195.19 L214.19 195.33 L214.97 195.48 L215.75 195.62 L216.52 195.77 L217.30 195.92 L218.08 196.07 L218.85 196.22 L219.63 196.37 L220.41 196.52 L221.18 196.67 L221.96 196.83 L222.74 196.98 L223.51 197.14 L224.29 197.30 L225.07 197.45 L225.84 197.61 L226.62 197.78 L227.40 197.94 L228.17 198.10 L228.95 198.27 L229.73 198.43 L230.50 198.60 L231.28 198.77 L232.06 198.93 L232.83 199.10 L233.61 199.27 L234.39 199.45 L235.16 199.62 L235.94 199.79 L236.72 199.97 L237.49 200.14 L238.27 200.32 L239.05 200.50 L239.82 200.68 L240.60 200.86 L241.38 201.04 L242.15 201.22 L242.93 201.41 L243.71 201.59 L244.48 201.77 L245.26 201.96 L246.04 202.15 L246.81 202.34 L247.59 202.53 L248.37 202.72 L249.14 202.91 L249.92 203.10 L250.70 203.29 L251.47 203.49 L252.25 203.68 L253.03 203.88 L253.80 204.07 L254.58 204.27 L255.36 204.47 L256.13 204.67 L256.91 204.87 L257.69 205.07 L258.47 205.27 L259.24 205.48 L260.02 205.68 L260.80 205.89 L261.57 206.09 L262.35 206.30 L263.13 206.51 L263.90 206.72 L264.68 206.93 L265.46 207.14 L266.23 207.35 L267.01 207.56 L267.79 207.78 L268.56 207.99 L269.34 208.21 L270.12 208.42 L270.89 208.64 L271.67 208.86 L272.45 209.07 L273.22 209.29 L274.00 209.51 L274.78 209.74 L275.55 209.96 L276.33 210.18 L277.11 210.41 L277.88 210.63 L278.66 210.86 L279.44 211.08 L280.21 211.31 L280.99 211.54 L281.77 211.77 L282.54 212.00 L283.32 212.23 L284.10 212.46 L284.87 212.69 L285.65 212.92 L286.43 213.16 L287.20 213.39 L287.98 213.63 L288.76 213.86 L289.53 214.10 L290.31 214.34 L291.09 214.58 L291.86 214.82 L292.64 215.06 L293.42 215.30 L294.19 215.54 L294.97 215.78 L295.75 216.03 L296.52 216.27 L297.30 216.52 L298.08 216.76 L298.85 217.01 L299.63 217.26 L300.41 217.50 L301.18 217.75 L301.96 218.00 L302.74 218.25 L303.51 218.51 L304.29 218.76 L305.07 219.01 L305.84 219.26 L306.62 219.52 L307.40 219.77 L308.17 220.03 L308.95 220.29 L309.73 220.54 L310.50 220.80 L311.28 221.06 L312.06 221.32 L312.83 221.58 L313.61 221.84 L314.39 222.10 L315.16 222.36 L315.94 222.63 L316.72 222.89 L317.49 223.16 L318.27 223.42 L319.05 223.69 L319.82 223.95 L320.60 224.22 L321.38 224.49 L322.15 224.76 L322.93 225.03 L323.71 225.30 L324.48 225.57 L325.26 225.84 L326.04 226.12 L326.81 226.39 L327.59 226.66 L328.37 226.94 L329.15 227.21 L329.92 227.49 L330.70 227.76 L331.48 228.04 L332.25 228.32 L333.03 228.60 L333.81 228.88 L334.58 229.16 L335.36 229.44 L336.14 229.72 L336.91 230.00 L337.69 230.29 L338.47 230.57 L339.24 230.85 L340.02 231.14 L340.80 231.42 L341.57 231.71 L342.35 232.00 L343.13 232.28 L343.90 232.57 L344.68 232.86 L345.46 233.15 L346.23 233.44 L347.01 233.73 L347.79 234.02 L348.56 234.32 L349.34 234.61 L350.12 234.90 L350.89 235.20 L351.67 235.49 L352.45 235.79 L353.22 236.08 L354.00 236.38 L354.78 236.68 L355.55 236.97 L356.33 237.27 L357.11 237.57 L357.88 237.87 L358.66 238.17 L359.44 238.47 L360.21 238.77 L360.99 239.08 L361.77 239.38 L362.54 239.68 L363.32 239.99 L364.10 240.29 L364.87 240.60 L365.65 240.90 L366.43 241.21 L367.20 241.52 L367.98 241.82 L368.76 242.13 L369.53 242.44 L370.31 242.75 L371.09 243.06 L371.86 243.37 L372.64 243.68 L373.42 244.00 L374.19 244.31 L374.97 244.62 L375.75 244.93 L376.52 245.25 L377.30 245.56 L378.08 245.88 L378.85 246.20 L379.63 246.51 L380.41 246.83 L381.18 247.15 L381.96 247.47 L382.74 247.79 L383.51 248.11 L384.29 248.43 L385.07 248.75 L385.84 249.07 L386.62 249.39 L387.40 249.71 L388.17 250.04 L388.95 250.36 L389.73 250.68 L390.50 251.01 L391.28 251.33 L392.06 251.66 L392.83 251.99 L393.61 252.31 L394.39 252.64 L395.16 252.97 L395.94 253.30 L396.72 253.63 L397.49 253.96 L398.27 254.29 L399.05 254.62 L399.83 254.95 L400.60 255.28 L401.38 255.62 L402.16 255.95 L402.93 256.28 L403.71 256.62 L404.49 256.95 L405.26 257.29 L406.04 257.63 L406.82 257.96 L407.59 258.30 L408.37 258.64 L409.15 258.98 L409.92 259.31 L410.70 259.65 L411.48 259.99 L412.25 260.33 L413.03 260.68 L413.81 261.02 L414.58 261.36 L415.36 261.70 L416.14 262.04 L416.91 262.39 L417.69 262.73 L418.47 263.08 L419.24 263.42 L420.02 263.77 L420.80 264.11 L421.57 264.46 L422.35 264.81 L423.13 265.16 L423.90 265.50 L424.68 265.85 L425.46 266.20 L426.23 266.55 L427.01 266.90 L427.79 267.25 L428.56 267.61 L429.34 267.96 L430.12 268.31 L430.89 268.66 L431.67 269.02 L432.45 269.37 L433.22 269.73 L434.00 270.08" stroke="#0000ff" stroke-dasharray="3.4 3.015"/>
<path class="c" d="M15.00 315.00 L15.00 314.73 L15.00 314.47 L15.00 314.20 L15.00 313.94 L15.00 313.67 L15.00 313.40 L15.00 313.14 L15.00 312.87 L15.00 312.61 L15.00 312.34 L15.00 312.08 L15.00 311.81 L15.00 311.54 L15.00 311.28 L15.00 311.01 L15.00 310.75 L15.00 310.48 L15.00 310.21 L15.00 309.95 L15.00 309.68 L15.00 309.42 L15.01 309.15 L15.01 308.88 L15.01 308.62 L15.01 308.35 L15.01 308.09 L15.01 307.82 L15.01 307.56 L15.01 307.29 L15.01 307.02 L15.01 306.76 L15.02 306.49 L15.02 306.23 L15.02 305.96 L15.02 305.69 L15.02 305.43 L15.03 305.16 L15.03 304.90 L15.03 304.63 L15.03 304.37 L15.03 304.10 L15.04 303.83 L15.04 303.57 L15.04 303.30 L15.05 303.04 L15.05 302.77 L15.05 302.50 L15.05 302.24 L15.06 301.97 L15.06 301.71 L15.07 301.44 L15.07 301.18 L15.07 300.91 L15.08 300.64 L15.08 300.38 L15.09 300.11 L15.09 299.85 L15.10 299.58 L15.10 299.32 L15.11 299.05 L15.11 298.78 L15.12 298.52 L15.12 298.25 L15.13 297.99 L15.14 297.72 L15.14 297.46 L15.15 297.19 L15.16 296.92 L15.16 296.66 L15.17 296.39 L15.18 296.13 L15.18 295.86 L15.19 295.60 L15.20 295.33 L15.21 295.07 L15.22 294.80 L15.23 294.54 L15.23 294.27 L15.24 294.00 L15.25 293.74 L15.26 293.47 L15.27 293.21 L15.28 292.94 L15.29 292.68 L15.30 292.41 L15.31 292.15 L15.33 291.88 L15.34 291.62 L15.35 291.35 L15.36 291.09 L15.37 290.82 L15.39 290.56 L15.40 290.29 L15.41 290.03 L15.42 289.76 L15.44 289.50 L15.45 289.23 L15.47 288.97 L15.48 288.70 L15.49 288.44 L15.51 288.17 L15.52 287.91 L15.54 287.64 L15.56 287.38 L15.57 287.11 L15.59 286.85 L15.61 286.58 L15.62 286.32 L15.64 286.05 L15.66 285.79 L15.68 285.53 L15.70 285.26 L15.71 285.00 L15.73 284.73 L15.75 284.47 L15.77 284.20 L15.79 283.94 L15.81 283.68 L15.83 283.41 L15.85 283.15 L15.88 282.88 L15.90 282.62 L15.92 282.35 L15.94 282.09 L15.97 281.83 L15.99 281.56 L16.01 281.30 L16.04 281.04 L16.06 280.77 L16.09 280.51 L16.11 280.25 L16.14 279.98 L16.16 279.72 L16.19 279.45 L16.22 279.19 L16.24 278.93 L16.27 278.66 L16.30 278.40 L16.33 278.14 L16.36 277.88 L16.39 277.61 L16.42 277.35 L16.45 277.09 L16.48 276.82 L16.51 276.56 L16.54 276.30 L16.57 276.04 L16.60 275.77 L16.64 275.51 L16.67 275.25 L16.70 274.99 L16.74 274.72 L16.77 274.46 L16.81 274.20 L16.84 273.94 L16.88 273.68 L16.91 273.41 L16.95 273.15 L16.99 272.89 L17.03 272.63 L17.06 272.37 L17.10 272.11 L17.14 271.85 L17.18 271.58 L17.22 271.32 L17.26 271.06 L17.30 270.80 L17.35 270.54 L17.39 270.28 L17.43 270.02 L17.47 269.76 L17.52 269.50 L17.56 269.24 L17.61 268.98 L17.65 268.72 L17.70 268.46 L17.74 268.20 L17.79 267.94 L17.84 267.68 L17.89 267.42 L17.93 267.16 L17.98 266.90 L18.03 266.64 L18.08 266.38 L18.13 266.12 L18.18 265.86 L18.24 265.60 L18.29 265.34 L18.34 265.09 L18.39 264.83 L18.45 264.57 L18.50 264.31 L18.56 264.05 L18.61 263.79 L18.67 263.54 L18.72 263.28 L18.78 263.02 L18.84 262.76 L18.90 262.51 L18.96 262.25 L19.02 261.99 L19.08 261.73 L19.14 261.48 L19.20 261.22 L19.26 260.96 L19.32 260.71 L19.39 260.45 L19.45 260.20 L19.52 259.94 L19.58 259.68 L19.65 259.43 L19.71 259.17 L19.78 258.92 L19.85 258.66 L19.92 258.41 L19.99 258.15 L20.06 257.90 L20.13 257.64 L20.20 257.39 L20.27 257.14 L20.34 256.88 L20.41 256.63 L20.49 256.37 L20.56 256.12 L20.64 255.87 L20.71 255.62 L20.79 255.36 L20.86 255.11 L20.94 254.86 L21.02 254.60 L21.10 254.35 L21.18 254.10 L21.26 253.85 L21.34 253.60 L21.42 253.35 L21.50 253.10 L21.59 252.84 L21.67 252.59 L21.75 252.34 L21.84 252.09 L21.92 251.84 L22.01 251.59 L22.10 251.34 L22.19 251.09 L22.28 250.84 L22.36 250.60 L22.45 250.35 L22.55 250.10 L22.64 249.85 L22.73 249.60 L22.82 249.35 L22.92 249.11 L23.01 248.86 L23.11 248.61 L23.20 248.37 L23.30 248.12 L23.40 247.87 L23.50 247.63 L23.60 247.38 L23.70 247.14 L23.80 246.89 L23.90 246.65 L24.00 246.40 L24.10 246.16 L24.21 245.91 L24.31 245.67 L24.42 245.43 L24.52 245.18 L24.63 244.94 L24.74 244.70 L24.85 244.45 L24.96 244.21 L25.07 243.97 L25.18 243.73 L25.29 243.49 L25.40 243.25 L25.51 243.01 L25.63 242.77 L25.74 242.53 L25.86 242.29 L25.98 242.05 L26.09 241.81 L26.21 241.57 L26.33 241.33 L26.45 241.09 L26.57 240.85 L26.70 240.62 L26.82 240.38 L26.94 240.14 L27.07 239.91 L27.19 239.67 L27.32 239.44 L27.44 239.20 L27.57 238.97 L27.70 238.73 L27.83 238.50 L27.96 238.26 L28.09 238.03 L28.22 237.80 L28.36 237.56 L28.49 237.33 L28.63 237.10 L28.76 236.87 L28.90 236.64 L29.04 236.41 L29.17 236.18 L29.31 235.95 L29.45 235.72 L29.60 235.49 L29.74 235.26 L29.88 235.03 L30.03 234.81 L30.17 234.58 L30.32 234.35 L30.46 234.13 L30.61 233.90 L30.76 233.67 L30.91 233.45 L31.06 233.23 L31.21 233.00 L31.36 232.78 L31.52 232.55 L31.67 232.33 L31.83 232.11 L31.98 231.89 L32.14 231.67 L32.30 231.45 L32.46 231.23 L32.62 231.01 L32.78 230.79 L32.94 230.57 L33.10 230.35 L33.27 230.13 L33.43 229.92 L33.60 229.70 L33.77 229.49 L33.93 229.27 L34.10 229.06 L34.27 228.84 L34.44 228.63 L34.62 228.41 L34.79 228.20 L34.96 227.99 L35.14 227.78 L35.31 227.57 L35.49 227.36 L35.67 227.15 L35.85 226.94 L36.03 226.73 L36.21 226.52 L36.39 226.32 L36.58 226.11 L36.76 225.90 L36.95 225.70 L37.13 225.49 L37.32 225.29 L37.51 225.09 L37.70 224.88 L37.89 224.68 L38.08 224.48 L38.27 224.28 L38.47 224.08 L38.66 223.88 L38.86 223.68 L39.06 223.49 L39.25 223.29 L39.45 223.09 L39.65 222.90 L39.86 222.70 L40.06 222.51 L40.26 222.32 L40.47 222.12 L40.67 221.93 L40.88 221.74 L41.09 221.55 L41.30 221.36 L41.51 221.17 L41.72 220.98 L41.93 220.80 L42.15 220.61 L42.36 220.43 L42.58 220.24 L42.79 220.06 L43.01 219.87 L43.23 219.69 L43.45 219.51 L43.67 219.33 L43.90 219.15 L44.12 218.97 L44.35 218.79 L44.57 218.62 L44.80 218.44 L45.03 218.27 L45.26 218.09 L45.49 217.92 L45.72 217.75 L45.95 217.57 L46.19 217.40 L46.42 217.24 L47.20 216.69 L47.98 216.16 L48.76 215.65 L49.53 215.16 L50.31 214.69 L51.09 214.24 L51.86 213.80 L52.64 213.37 L53.42 212.97 L54.19 212.57 L54.97 212.20 L55.75 211.84 L56.52 211.49 L57.30 211.16 L58.08 210.84 L58.85 210.53 L59.63 210.24 L60.41 209.96 L61.18 209.70 L61.96 209.44 L62.74 209.20 L63.51 208.98 L64.29 208.76 L65.07 208.56 L65.84 208.37 L66.62 208.19 L67.40 208.02 L68.17 207.86 L68.95 207.72 L69.73 207.58 L70.50 207.46 L71.28 207.35 L72.06 207.25 L72.83 207.16 L73.61 207.08 L74.39 207.01 L75.16 206.95 L75.94 206.90 L76.72 206.86 L77.49 206.83 L78.27 206.81 L79.05 206.80 L79.82 206.81 L80.60 206.82 L81.38 206.84 L82.15 206.87 L82.93 206.91 L83.71 206.95 L84.48 207.01 L85.26 207.08 L86.04 207.16 L86.81 207.24 L87.59 207.34 L88.37 207.44 L89.14 207.55 L89.92 207.68 L90.70 207.81 L91.47 207.95 L92.25 208.10 L93.03 208.25 L93.80 208.42 L94.58 208.60 L95.36 208.78 L96.13 208.97 L96.91 209.17 L97.69 209.38 L98.46 209.60 L99.24 209.83 L100.02 210.06 L100.79 210.30 L101.57 210.56 L102.35 210.82 L103.12 211.08 L103.90 211.36 L104.68 211.64 L105.45 211.94 L106.23 212.24 L107.01 212.55 L107.78 212.87 L108.56 213.19 L109.34 213.52 L110.11 213.87 L110.89 214.22 L111.67 214.57 L112.44 214.94 L113.22 215.31 L114.00 215.69 L114.77 216.08 L115.55 216.48 L116.33 216.89 L117.11 217.30 L117.88 217.72 L118.66 218.15 L119.44 218.59 L120.21 219.03 L120.99 219.48 L121.77 219.94 L122.54 220.41 L123.32 220.89 L124.10 221.37 L124.87 221.86 L125.65 222.36 L126.43 222.87 L127.20 223.38 L127.98 223.90 L128.76 224.43 L129.53 224.97 L130.31 225.52 L131.09 226.07 L131.86 226.63 L132.64 227.20 L133.42 227.77 L134.19 228.36 L134.97 228.95 L135.75 229.54 L136.52 230.15 L137.30 230.76 L138.08 231.39 L138.85 232.01 L139.63 232.65 L140.41 233.29 L141.18 233.94 L141.96 234.60 L142.74 235.27 L143.51 235.94 L144.29 236.62 L145.07 237.31 L145.84 238.01 L146.62 238.71 L147.40 239.42 L148.17 240.14 L148.95 240.87 L149.73 241.60 L150.50 242.34 L151.28 243.09 L152.06 243.85 L152.83 244.61 L153.61 245.38 L154.39 246.16 L155.16 246.95 L155.94 247.74 L156.72 248.54 L157.49 249.35 L158.27 250.17 L159.05 250.99 L159.82 251.82 L160.60 252.66 L161.38 253.50 L162.15 254.36 L162.93 255.22 L163.71 256.08 L164.48 256.96 L165.26 257.84 L166.04 258.73 L166.81 259.63 L167.59 260.53 L168.37 261.45 L169.14 262.36 L169.92 263.29 L170.70 264.23 L171.47 265.17 L172.25 266.12 L173.03 267.07 L173.80 268.04 L174.58 269.01 L175.36 269.99 L176.13 270.97 L176.91 271.97 L177.69 272.97 L178.46 273.98 L179.24 274.99 L180.02 276.02 L180.79 277.05 L181.57 278.08 L182.35 279.13 L183.12 280.18 L183.90 281.24 L184.68 282.31 L185.45 283.39 L186.23 284.47 L187.01 285.56 L187.79 286.66 L188.56 287.76 L189.34 288.87 L190.12 289.99 L190.89 291.12 L191.67 292.25 L192.45 293.40 L193.22 294.54 L194.00 295.70 L194.78 296.87 L195.55 298.04 L196.33 299.22 L197.11 300.40 L197.88 301.60 L198.66 302.80 L199.44 304.01 L200.21 305.22 L200.99 306.45 L201.77 307.68 L202.54 308.91 L203.32 310.16 L204.10 311.41 L204.87 312.67 L205.65 313.94 L206.43 315.22 L206.92 316.04" stroke="#ff0000"/>
<path class="c" d="M15.00 315.00 L15.00 314.73 L15.00 314.47 L15.00 314.20 L15.00 313.94 L15.00 313.67 L15.00 313.40 L15.00 313.14 L15.00 312.87 L15.00 312.61 L15.00 312.34 L15.00 312.08 L15.00 311.81 L15.00 311.54 L15.00 311.28 L15.00 311.01 L15.00 310.75 L15.00 310.48 L15.00 310.21 L15.00 309.95 L15.00 309.68 L15.00 309.42 L15.01 309.15 L15.01 308.88 L15.01 308.62 L15.01 308.35 L15.01 308.09 L15.01 307.82 L15.01 307.56 L15.01 307.29 L15.01 307.02 L15.01 306.76 L15.02 306.49 L15.02 306.23 L15.02 305.96 L15.02 305.69 L15.02 305.43 L15.03 305.16 L15.03 304.90 L15.03 304.63 L15.03 304.37 L15.03 304.10 L15.04 303.83 L15.04 303.57 L15.04 303.30 L15.05 303.04 L15.05 302.77 L15.05 302.50 L15.05 302.24 L15.06 301.97 L15.06 301.71 L15.07 301.44 L15.07 301.18 L15.07 300.91 L15.08 300.64 L15.08 300.38 L15.09 300.11 L15.09 299.85 L15.10 299.58 L15.10 299.32 L15.11 299.05 L15.11 298.78 L15.12 298.52 L15.12 298.25 L15.13 297.99 L15.14 297.72 L15.14 297.46 L15.15 297.19 L15.16 296.92 L15.16 296.66 L15.17 296.39 L15.18 296.13 L15.18 295.86 L15.19 295.60 L15.20 295.33 L15.21 295.07 L15.22 294.80 L15.23 294.54 L15.23 294.27 L15.24 294.00 L15.25 293.74 L15.26 293.47 L15.27 293.21 L15.28 292.94 L15.29 292.68 L15.30 292.41 L15.31 292.15 L15.33 291.88 L15.34 291.62 L15.35 291.35 L15.36 291.09 L15.37 290.82 L15.39 290.56 L15.40 290.29 L15.41 290.03 L15.42 289.76 L15.44 289.50 L15.45 289.23 L15.47 288.97 L15.48 288.70 L15.49 288.44 L15.51 288.17 L15.52 287.91 L15.54 287.64 L15.56 287.38 L15.57 287.11 L15.59 286.85 L15.61 286.58 L15.62 286.32 L15.64 286.05 L15.66 285.79 L15.68 285.53 L15.70 285.26 L15.71 285.00 L15.73 284.73 L15.75 284.47 L15.77 284.20 L15.79 283.94 L15.81 283.68 L15.83 283.41 L15.85 283.15 L15.88 282.88 L15.90 282.62 L15.92 282.35 L15.94 282.09 L15.97 281.83 L15.99 281.56 L16.01 281.30 L16.04 281.04 L16.06 280.77 L16.09 280.51 L16.11 280.25 L16.14 279.98 L16.16 279.72 L16.19 279.45 L16.22 279.19 L16.24 278.93 L16.27 278.66 L16.30 278.40 L16.33 278.14 L16.36 277.88 L16.39 277.61 L16.42 277.35 L16.45 277.09 L16.48 276.82 L16.51 276.56 L16.54 276.30 L16.57 276.04 L16.60 275.77 L16.64 275.51 L16.67 275.25 L16.70 274.99 L16.74 274.72 L16.77 274.46 L16.81 274.20 L16.84 273.94 L16.88 273.68 L16.91 273.41 L16.95 273.15 L16.99 272.89 L17.03 272.63 L17.06 272.37 L17.10 272.11 L17.14 271.85 L17.18 271.58 L17.22 271.32 L17.26 271.06 L17.30 270.80 L17.35 270.54 L17.39 270.28 L17.43 270.02 L17.47 269.76 L17.52 269.50 L17.56 269.24 L17.61 268.98 L17.65 268.72 L17.70 268.46 L17.74 268.20 L17.79 267.94 L17.84 267.68 L17.89 267.42 L17.93 267.16 L17.98 266.90 L18.03 266.64 L18.08 266.38 L18.13 266.12 L18.18 265.86 L18.24 265.60 L18.29 265.34 L18.34 265.09 L18.39 264.83 L18.45 264.57 L18.50 264.31 L18.56 264.05 L18.61 263.79 L18.67 263.54 L18.72 263.28 L18.78 263.02 L18.84 262.76 L18.90 262.51 L18.96 262.25 L19.02 261.99 L19.08 261.73 L19.14 261.48 L19.20 261.22 L19.26 260.96 L19.32 260.71 L19.39 260.45 L19.45 260.20 L19.52 259.94 L19.58 259.68 L19.65 259.43 L19.71 259.17 L19.78 258.92 L19.85 258.66 L19.92 258.41 L19.99 258.15 L20.06 257.90 L20.13 257.64 L20.20 257.39 L20.27 257.14 L20.34 256.88 L20.41 256.63 L20.49 256.37 L20.56 256.12 L20.64 255.87 L20.71 255.61 L20.79 255.36 L20.86 255.11 L20.94 254.86 L21.02 254.60 L21.10 254.35 L21.18 254.10 L21.26 253.85 L21.34 253.60 L21.42 253.35 L21.50 253.09 L21.59 252.84 L21.67 252.59 L21.75 252.34 L21.84 252.09 L21.92 251.84 L22.01 251.59 L22.10 251.34 L22.19 251.09 L22.28 250.84 L22.36 250.59 L22.45 250.35 L22.55 250.10 L22.64 249.85 L22.73 249.60 L22.82 249.35 L22.92 249.10 L23.01 248.86 L23.11 248.61 L23.20 248.36 L23.30 248.12 L23.40 247.87 L23.50 247.62 L23.60 247.38 L23.70 247.13 L23.80 246.89 L23.90 246.64 L24.00 246.40 L24.10 246.15 L24.21 245.91 L24.31 245.66 L24.42 245.42 L24.52 245.18 L24.63 244.93 L24.74 244.69 L24.85 244.45 L24.96 244.21 L25.07 243.96 L25.18 243.72 L25.29 243.48 L25.40 243.24 L25.51 243.00 L25.63 242.76 L25.74 242.52 L25.86 242.28 L25.98 242.04 L26.09 241.80 L26.21 241.56 L26.33 241.32 L26.45 241.08 L26.57 240.85 L26.70 240.61 L26.82 240.37 L26.94 240.13 L27.07 239.90 L27.19 239.66 L27.32 239.42 L27.44 239.19 L27.57 238.95 L27.70 238.72 L27.83 238.48 L27.96 238.25 L28.09 238.02 L28.22 237.78 L28.36 237.55 L28.49 237.32 L28.63 237.09 L28.76 236.85 L28.90 236.62 L29.04 236.39 L29.17 236.16 L29.31 235.93 L29.45 235.70 L29.60 235.47 L29.74 235.24 L29.88 235.01 L30.03 234.78 L30.17 234.56 L30.32 234.33 L30.46 234.10 L30.61 233.88 L30.76 233.65 L30.91 233.42 L31.06 233.20 L31.21 232.97 L31.36 232.75 L31.52 232.52 L31.67 232.30 L31.83 232.08 L31.98 231.86 L32.14 231.63 L32.30 231.41 L32.46 231.19 L32.62 230.97 L32.78 230.75 L32.94 230.53 L33.10 230.31 L33.27 230.09 L33.43 229.87 L33.60 229.66 L33.77 229.44 L33.93 229.22 L34.10 229.01 L34.27 228.79 L34.44 228.58 L34.62 228.36 L34.79 228.15 L34.96 227.93 L35.14 227.72 L35.31 227.51 L35.49 227.30 L35.67 227.08 L35.85 226.87 L36.03 226.66 L36.21 226.45 L36.39 226.24 L36.58 226.04 L36.76 225.83 L36.95 225.62 L37.13 225.41 L37.32 225.21 L37.51 225.00 L37.70 224.80 L37.89 224.59 L38.08 224.39 L38.27 224.19 L38.47 223.98 L38.66 223.78 L38.86 223.58 L39.06 223.38 L39.25 223.18 L39.45 222.98 L39.65 222.78 L39.86 222.58 L40.06 222.39 L40.26 222.19 L40.47 221.99 L40.67 221.80 L40.88 221.60 L41.09 221.41 L41.30 221.22 L41.51 221.02 L41.72 220.83 L41.93 220.64 L42.15 220.45 L42.36 220.26 L42.58 220.07 L42.79 219.88 L43.01 219.70 L43.23 219.51 L43.45 219.32 L43.67 219.14 L43.90 218.95 L44.12 218.77 L44.35 218.59 L44.57 218.40 L44.80 218.22 L45.03 218.04 L45.26 217.86 L45.49 217.68 L45.72 217.50 L45.95 217.33 L46.19 217.15 L46.42 216.97 L47.20 216.41 L47.98 215.86 L48.76 215.32 L49.53 214.81 L50.31 214.31 L51.09 213.82 L51.86 213.35 L52.64 212.89 L53.42 212.45 L54.19 212.03 L54.97 211.61 L55.75 211.21 L56.52 210.82 L57.30 210.45 L58.08 210.08 L58.85 209.73 L59.63 209.39 L60.41 209.06 L61.18 208.75 L61.96 208.44 L62.74 208.14 L63.51 207.85 L64.29 207.58 L65.07 207.31 L65.84 207.05 L66.62 206.81 L67.40 206.57 L68.17 206.34 L68.95 206.12 L69.73 205.90 L70.50 205.70 L71.28 205.50 L72.06 205.32 L72.83 205.14 L73.61 204.96 L74.39 204.80 L75.16 204.64 L75.94 204.49 L76.72 204.35 L77.49 204.21 L78.27 204.09 L79.05 203.96 L79.82 203.85 L80.60 203.74 L81.38 203.64 L82.15 203.54 L82.93 203.45 L83.71 203.37 L84.48 203.29 L85.26 203.22 L86.04 203.15 L86.81 203.09 L87.59 203.04 L88.37 202.99 L89.14 202.94 L89.92 202.90 L90.70 202.87 L91.47 202.84 L92.25 202.82 L93.03 202.80 L93.80 202.78 L94.58 202.77 L95.36 202.77 L96.13 202.77 L96.91 202.77 L97.69 202.78 L98.46 202.80 L99.24 202.81 L100.02 202.83 L100.79 202.86 L101.57 202.89 L102.35 202.92 L103.12 202.96 L103.90 203.00 L104.68 203.04 L105.45 203.09 L106.23 203.14 L107.01 203.20 L107.78 203.26 L108.56 203.32 L109.34 203.39 L110.11 203.45 L110.89 203.53 L111.67 203.60 L112.44 203.68 L113.22 203.76 L114.00 203.85 L114.77 203.93 L115.55 204.02 L116.33 204.12 L117.11 204.21 L117.88 204.31 L118.66 204.41 L119.44 204.52 L120.21 204.62 L120.99 204.73 L121.77 204.84 L122.54 204.96 L123.32 205.07 L124.10 205.19 L124.87 205.31 L125.65 205.44 L126.43 205.56 L127.20 205.69 L127.98 205.82 L128.76 205.95 L129.53 206.09 L130.31 206.22 L131.09 206.36 L131.86 206.50 L132.64 206.64 L133.42 206.78 L134.19 206.93 L134.97 207.08 L135.75 207.23 L136.52 207.38 L137.30 207.53 L138.08 207.68 L138.85 207.84 L139.63 207.99 L140.41 208.15 L141.18 208.31 L141.96 208.47 L142.74 208.64 L143.51 208.80 L144.29 208.97 L145.07 209.13 L145.84 209.30 L146.62 209.47 L147.40 209.64 L148.17 209.82 L148.95 209.99 L149.73 210.16 L150.50 210.34 L151.28 210.51 L152.06 210.69 L152.83 210.87 L153.61 211.05 L154.39 211.23 L155.16 211.41 L155.94 211.60 L156.72 211.78 L157.49 211.96 L158.27 212.15 L159.05 212.34 L159.82 212.52 L160.60 212.71 L161.38 212.90 L162.15 213.09 L162.93 213.28 L163.71 213.47 L164.48 213.66 L165.26 213.85 L166.04 214.05 L166.81 214.24 L167.59 214.43 L168.37 214.63 L169.14 214.82 L169.92 215.02 L170.70 215.21 L171.47 215.41 L172.25 215.61 L173.03 215.81 L173.80 216.00 L174.58 216.20 L175.36 216.40 L176.13 216.60 L176.91 216.80 L177.69 217.00 L178.46 217.20 L179.24 217.40 L180.02 217.60 L180.79 217.81 L181.57 218.01 L182.35 218.21 L183.12 218.41 L183.90 218.62 L184.68 218.82 L185.45 219.02 L186.23 219.23 L187.01 219.43 L187.79 219.63 L188.56 219.84 L189.34 220.04 L190.12 220.24 L190.89 220.45 L191.67 220.65 L192.45 220.86 L193.22 221.06 L194.00 221.27 L194.78 221.47 L195.55 221.68 L196.33 221.88 L197.11 222.09 L197.88 222.29 L198.66 222.50 L199.44 222.70 L200.21 222.91 L200.99 223.11 L201.77 223.32 L202.54 223.52 L203.32 223.73 L204.10 223.93 L204.87 224.14 L205.65 224.34 L206.43 224.55 L207.20 224.75 L207.98 224.96 L208.76 225.16 L209.53 225.37 L210.31 225.57 L211.09 225.77 L211.86 225.98 L212.64 226.18 L213.42 226.39 L214.19 226.59 L214.97 226.79 L215.75 227.00 L216.52 227.20 L217.30 227.40 L218.08 227.60 L218.85 227.81 L219.63 228.01 L220.41 228.21 L221.18 228.41 L221.96 228.61 L222.74 228.82 L223.51 229.02 L224.29 229.22 L225.07 229.42 L225.84 229.62 L226.62 229.82 L227.40 230.02 L228.17 230.22 L228.95 230.42 L229.73 230.62 L230.50 230.82 L231.28 231.02 L232.06 231.21 L232.83 231.41 L233.61 231.61 L234.39 231.81 L235.16 232.00 L235.94 232.20 L236.72 232.40 L237.49 232.59 L238.27 232.79 L239.05 232.98 L239.82 233.18 L240.60 233.37 L241.38 233.57 L242.15 233.76 L242.93 233.96 L243.71 234.15 L244.48 234.34 L245.26 234.54 L246.04 234.73 L246.81 234.92 L247.59 235.11 L248.37 235.30 L249.14 235.49 L249.92 235.68 L250.70 235.87 L251.47 236.06 L252.25 236.25 L253.03 236.44 L253.80 236.63 L254.58 236.82 L255.36 237.01 L256.13 237.19 L256.91 237.38 L257.69 237.57 L258.47 237.75 L259.24 237.94 L260.02 238.13 L260.80 238.31 L261.57 238.50 L262.35 238.68 L263.13 238.86 L263.90 239.05 L264.68 239.23 L265.46 239.41 L266.23 239.60 L267.01 239.78 L267.79 239.96 L268.56 240.14 L269.34 240.32 L270.12 240.50 L270.89 240.68 L271.67 240.86 L272.45 241.04 L273.22 241.22 L274.00 241.39 L274.78 241.57 L275.55 241.75 L276.33 241.93 L277.11 242.10 L277.88 242.28 L278.66 242.45 L279.44 242.63 L280.21 242.80 L280.99 242.98 L281.77 243.15 L282.54 243.32 L283.32 243.50 L284.10 243.67 L284.87 243.84 L285.65 244.01 L286.43 244.18 L287.20 244.35 L287.98 244.52 L288.76 244.69 L289.53 244.86 L290.31 245.03 L291.09 245.20 L291.86 245.37 L292.64 245.54 L293.42 245.70 L294.19 245.87 L294.97 246.04 L295.75 246.20 L296.52 246.37 L297.30 246.53 L298.08 246.70 L298.85 246.86 L299.63 247.02 L300.41 247.19 L301.18 247.35 L301.96 247.51 L302.74 247.67 L303.51 247.83 L304.29 247.99 L305.07 248.16 L305.84 248.32 L306.62 248.47 L307.40 248.63 L308.17 248.79 L308.95 248.95 L309.73 249.11 L310.50 249.27 L311.28 249.42 L312.06 249.58 L312.83 249.74 L313.61 249.89 L314.39 250.05 L315.16 250.20 L315.94 250.36 L316.72 250.51 L317.49 250.66 L318.27 250.82 L319.05 250.97 L319.82 251.12 L320.60 251.27 L321.38 251.42 L322.15 251.57 L322.93 251.72 L323.71 251.87 L324.48 252.02 L325.26 252.17 L326.04 252.32 L326.81 252.47 L327.59 252.62 L328.37 252.77 L329.15 252.91 L329.92 253.06 L330.70 253.20 L331.48 253.35 L332.25 253.50 L333.03 253.64 L333.81 253.78 L334.58 253.93 L335.36 254.07 L336.14 254.22 L336.91 254.36 L337.69 254.50 L338.47 254.64 L339.24 254.78 L340.02 254.93 L340.80 255.07 L341.57 255.21 L342.35 255.35 L343.13 255.49 L343.90 255.62 L344.68 255.76 L345.46 255.90 L346.23 256.04 L347.01 256.18 L347.79 256.31 L348.56 256.45 L349.34 256.59 L350.12 256.72 L350.89 256.86 L351.67 256.99 L352.45 257.13 L353.22 257.26 L354.00 257.39 L354.78 257.53 L355.55 257.66 L356.33 257.79 L357.11 257.93 L357.88 258.06 L358.66 258.19 L359.44 258.32 L360.21 258.45 L360.99 258.58 L361.77 258.71 L362.54 258.84 L363.32 258.97 L364.10 259.10 L364.87 259.23 L365.65 259.35 L366.43 259.48 L367.20 259.61 L367.98 259.73 L368.76 259.86 L369.53 259.99 L370.31 260.11 L371.09 260.24 L371.86 260.36 L372.64 260.49 L373.42 260.61 L374.19 260.74 L374.97 260.86 L375.75 260.98 L376.52 261.10 L377.30 261.23 L378.08 261.35 L378.85 261.47 L379.63 261.59 L380.41 261.71 L381.18 261.83 L381.96 261.95 L382.74 262.07 L383.51 262.19 L384.29 262.31 L385.07 262.43 L385.84 262.55 L386.62 262.66 L387.40 262.78 L388.17 262.90 L388.95 263.02 L389.73 263.13 L390.50 263.25 L391.28 263.36 L392.06 263.48 L392.83 263.59 L393.61 263.71 L394.39 263.82 L395.16 263.94 L395.94 264.05 L396.72 264.16 L397.49 264.28 L398.27 264.39 L399.05 264.50 L399.83 264.61 L400.60 264.73 L401.38 264.84 L402.16 264.95 L402.93 265.06 L403.71 265.17 L404.49 265.28 L405.26 265.39 L406.04 265.50 L406.82 265.61 L407.59 265.72 L408.37 265.82 L409.15 265.93 L409.92 266.04 L410.70 266.15 L411.48 266.25 L412.25 266.36 L413.03 266.47 L413.81 266.57 L414.58 266.68 L415.36 266.78 L416.14 266.89 L416.91 266.99 L417.69 267.10 L418.47 267.20 L419.24 267.31 L420.02 267.41 L420.80 267.51 L421.57 267.61 L422.35 267.72 L423.13 267.82 L423.90 267.92 L424.68 268.02 L425.46 268.12 L426.23 268.23 L427.01 268.33 L427.79 268.43 L428.56 268.53 L429.34 268.63 L430.12 268.73 L430.89 268.83 L431.67 268.92 L432.45 269.02 L433.22 269.12 L434.00 269.22" stroke="#00aa00" stroke-dasharray="7.7 2.6 3.78 2.6" stroke-dashoffset="10.36"/>
</svg>
</body></html>
